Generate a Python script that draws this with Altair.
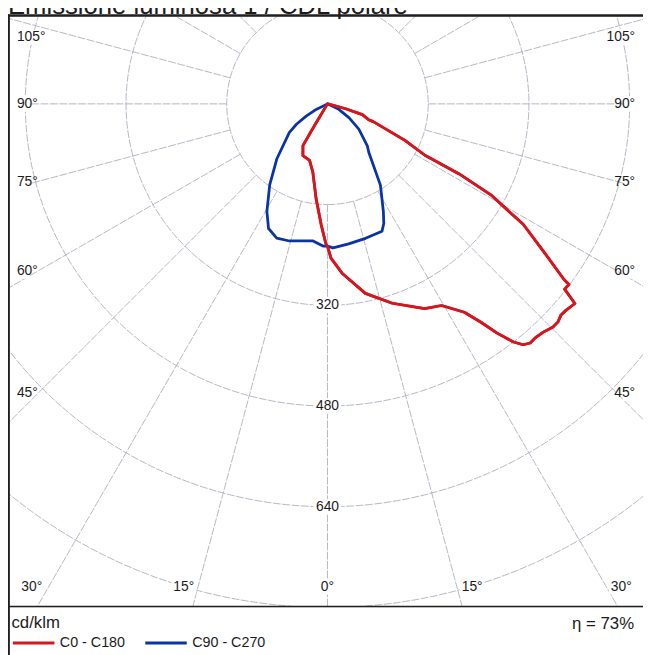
import pandas as pd
import altair as alt

FONT = "Liberation Sans"

# ---------------- data (cd/klm versus gamma, degrees) ----------------
series_names = ["C0 - C180", "C90 - C270"]
series_colors = ["#d5161f", "#0a33a6"]

# C0 half-plane (right), path order from 90 deg down to 0 deg
c0_gamma = [90, 80, 76, 74.9, 72.8, 69.0, 68.8, 64.8, 62.2, 62.0, 60.9, 59.5, 58.4, 55.7, 53.4,
            53.2, 52.0, 51.1, 49.1, 47.9, 46.6, 45.3, 43.4, 41.6, 40.3, 39.1, 38.0, 36.5, 35.1,
            33.3, 29.5, 25.4, 18.0, 11.3, 5.1, 1.3, 0]
c0_cd = [0, 0, 8, 30, 58, 70, 78, 136, 175, 237, 297, 331, 365, 415, 468,
         479, 478, 505, 501, 500, 504, 504, 499, 497, 498, 493, 480, 453, 424,
         396, 368, 360, 333, 307, 271, 245, 226]

# C180 half-plane (left), path order from 0 deg up to 90 deg
c180_gamma = [0, 0.6, 3.0, 6.8, 12.1, 17.6, 25.4, 30.4, 30.9, 31.5, 45, 60, 75, 90]
c180_cd = [226, 223, 192, 152, 111, 94, 91, 77, 40, 0, 0, 0, 0, 0]

# C90 half-plane (right), from 90 deg down to 0 deg
c90_gamma = [90, 72, 64.2, 57.2, 51.1, 43.5, 40.5, 33.1, 27.4, 25.2, 23.2, 15.8, 8.6, 2.2, 0]
c90_cd = [0, 0, 20, 41, 64, 92, 101, 154, 193, 210, 220, 222, 225, 229, 226]

# C270 half-plane (left), from 0 deg up to 90 deg
c270_gamma = [0, 1.8, 6.0, 15.5, 20.7, 25.3, 29.4, 35.5, 42.6, 53.0, 56.7, 60.2, 63.6, 70, 90]
c270_cd = [226, 226, 219, 226, 228, 219, 196, 158, 119, 76, 59, 39, 20, 0, 0]

ring_values = [160, 320, 480, 640, 800]
ring_label_values = [320, 480, 640]
side_angle_ticks = [105, 90, 75, 60, 45]
bottom_angle_ticks = [30, 15, 0, 15, 30]
title_text = "Emissione luminosa 1 / CDL polare"
unit_text = "cd/klm"
eta_text = "\u03b7 = 73%"

# ---------------- layout ----------------
K = 0.6375            # px per cd/klm
W, H = 643, 598       # frame size (plot area)
CX, CY = 323.5, 89.0  # pole position inside the frame, px
GRID = "#aeb0bc"
INK = "#1c1c1c"

x_dom = [-CX / K, (W - CX) / K]
y_dom = [-(H - CY) / K, CY / K]
xs = alt.Scale(domain=x_dom, nice=False, zero=False)
ys = alt.Scale(domain=y_dom, nice=False, zero=False)


def X(f):
    return alt.X(f, type="quantitative", scale=xs, axis=None)


def Y(f):
    return alt.Y(f, type="quantitative", scale=ys, axis=None)


# curves table
rows = []
for name, parts in [(series_names[0], [(c0_gamma, c0_cd, 1), (c180_gamma, c180_cd, -1)]),
                    (series_names[1], [(c90_gamma, c90_cd, 1), (c270_gamma, c270_cd, -1)])]:
    seq = 0
    for gam, cd, side in parts:
        for g, c in zip(gam, cd):
            rows.append({"series": name, "gamma": g, "cd": c, "side": side, "seq": seq})
            seq += 1
curve_df = pd.DataFrame(rows)

calc = dict(px="datum.side*datum.cd*sin(datum.gamma*PI/180)",
            py="-datum.cd*cos(datum.gamma*PI/180)")

legend = alt.Legend(
    title=unit_text, orient="none", legendX=3.5, legendY=607, direction="horizontal",
    titleFont=FONT, titleFontSize=17, titleFontWeight="normal", titleColor=INK, titlePadding=3,
    labelFont=FONT, labelFontSize=14.5, labelColor=INK, labelOffset=4,
    symbolType="stroke", symbolSize=1764, symbolStrokeWidth=3, columnPadding=18,
    clipHeight=16, padding=0,
)

curves = alt.Chart(curve_df).transform_calculate(**calc).mark_line(
    strokeWidth=2.8, strokeJoin="round", strokeCap="round"
).encode(
    x=X("px"), y=Y("py"),
    color=alt.Color("series:N", scale=alt.Scale(domain=series_names, range=series_colors), legend=legend),
    order=alt.Order("seq:Q"),
)

red_top = alt.Chart(curve_df[curve_df["series"] == series_names[0]]).transform_calculate(**calc).mark_line(
    strokeWidth=2.8, strokeJoin="round", strokeCap="round", color=series_colors[0]
).encode(x=X("px"), y=Y("py"), order=alt.Order("seq:Q"))

# grid rings
ring_df = pd.DataFrame([{"r": r, "t": t} for r in ring_values for t in range(0, 362, 2)])
rings = alt.Chart(ring_df).transform_calculate(
    px="datum.r*sin(datum.t*PI/180)", py="-datum.r*cos(datum.t*PI/180)"
).mark_line(clip=True, color=GRID, strokeWidth=0.9, strokeDash=[8, 1.5]).encode(
    x=X("px"), y=Y("py"), detail="r:N", order=alt.Order("t:Q")
)

# grid spokes every 15 degrees, starting at the 160 ring
spoke_df = pd.DataFrame({"a": list(range(0, 360, 15))})
spokes = alt.Chart(spoke_df).transform_calculate(
    x1="160*sin(datum.a*PI/180)", y1="-160*cos(datum.a*PI/180)",
    x2="1300*sin(datum.a*PI/180)", y2="-1300*cos(datum.a*PI/180)",
).mark_rule(clip=True, color=GRID, strokeWidth=0.9, strokeDash=[8, 1.5]).encode(
    x=X("x1"), y=Y("y1"), x2=alt.X2("x2"), y2=alt.Y2("y2")
)

# angle labels (placed along the frame)
lab_rows = []
side_y = [21, 89, 168, 258, 382]
for a, yy in zip(side_angle_ticks, side_y):
    lab_rows.append({"text": f"{a}\u00b0", "lx": 9, "ly": yy, "align": "left"})
for a, yy in zip(side_angle_ticks, side_y):
    lab_rows.append({"text": f"{a}\u00b0", "lx": 635, "ly": yy, "align": "right"})
for a, xx in zip(bottom_angle_ticks, [24, 178, 323.5, 470, 621]):
    lab_rows.append({"text": f"{a}\u00b0", "lx": xx, "ly": 578, "align": "center"})
lab_df = pd.DataFrame(lab_rows)
lab_df["w"] = lab_df["text"].str.len().sub(1) * 7.8 + 5.6
lab_df["bx1"] = lab_df.apply(lambda r: r.lx - 2 if r.align == "left" else (r.lx - r.w - 2 if r.align == "right" else r.lx - r.w / 2 - 2), axis=1)
lab_df["bx2"] = lab_df.apply(lambda r: r.lx + r.w + 2 if r.align == "left" else (r.lx + 2 if r.align == "right" else r.lx + r.w / 2 + 2), axis=1)
lab_df["by1"] = lab_df["ly"] - 8
lab_df["by2"] = lab_df["ly"] + 8
for c in ["lx", "bx1", "bx2"]:
    lab_df[c + "_d"] = (lab_df[c] - CX) / K
for c in ["ly", "by1", "by2"]:
    lab_df[c + "_d"] = (CY - lab_df[c]) / K

lab_bg = alt.Chart(lab_df).mark_rect(color="white").encode(
    x=X("bx1_d"), x2=alt.X2("bx2_d"), y=Y("by1_d"), y2=alt.Y2("by2_d")
)
lab_layers = []
for al in ["left", "right", "center"]:
    lab_layers.append(
        alt.Chart(lab_df[lab_df["align"] == al]).mark_text(
            align=al, baseline="middle", font=FONT, fontSize=14, color=INK
        ).encode(x=X("lx_d"), y=Y("ly_d"), text="text:N")
    )

# radius labels on the 0 deg axis
rad_df = pd.DataFrame({"v": ring_label_values})
rad_df["text"] = rad_df["v"].astype(str)
rad_bg = alt.Chart(rad_df).transform_calculate(
    bx1=f"-14/{K}", bx2=f"14/{K}", by1=f"-datum.v-8/{K}", by2=f"-datum.v+8/{K}"
).mark_rect(color="white").encode(x=X("bx1"), x2=alt.X2("bx2"), y=Y("by1"), y2=alt.Y2("by2"))
rad_txt = alt.Chart(rad_df).transform_calculate(px="0", py="-datum.v").mark_text(
    align="center", baseline="middle", font=FONT, fontSize=14, color=INK
).encode(x=X("px"), y=Y("py"), text="text:N")

# frame
one = pd.DataFrame({"k": [0]})
frame_top = alt.Chart(one).mark_rule(color="#202020", strokeWidth=2.4).encode(
    x=alt.value(0), x2=alt.value(W), y=alt.value(-0.5))
frame_left = alt.Chart(one).mark_rule(color="#202020", strokeWidth=2.2).encode(
    x=alt.value(0.8), y=alt.value(-1.5), y2=alt.value(H + 50))
frame_sep = alt.Chart(one).mark_rule(color="#202020", strokeWidth=1.7).encode(
    x=alt.value(0), x2=alt.value(W), y=alt.value(H))

title = alt.Chart(pd.DataFrame({"t": [title_text]})).mark_text(
    align="left", baseline="alphabetic", font=FONT, fontSize=26, color=INK
).encode(x=alt.value(0), y=alt.value(-2), text="t:N")

eta = alt.Chart(pd.DataFrame({"t": [eta_text]})).mark_text(
    align="right", baseline="middle", font=FONT, fontSize=17, color=INK
).encode(x=alt.value(634), y=alt.value(616), text="t:N")

chart = alt.layer(
    rings, spokes, lab_bg, rad_bg, *lab_layers, rad_txt, curves, red_top,
    frame_top, frame_left, frame_sep, title, eta
).properties(
    width=W, height=H,
    padding={"left": 0, "top": 4, "right": 0, "bottom": 45},
    autosize=alt.AutoSizeParams(type="none"),
).configure_view(strokeWidth=0).configure(background="white")

chart.save("out.html", embed_options={"renderer": "svg", "actions": False})
